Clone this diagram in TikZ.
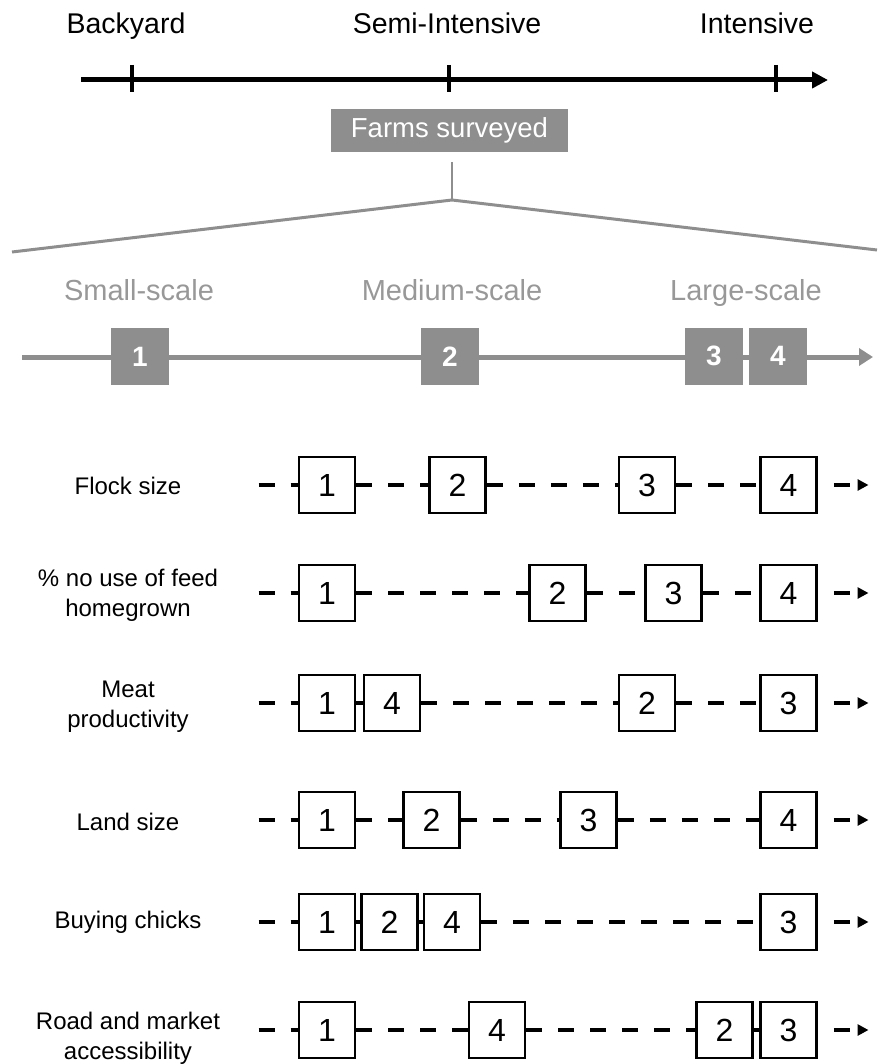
\documentclass[tikz,border=0pt]{standalone}
\usepackage{fontspec}
\setmainfont{Liberation Sans}
\usetikzlibrary{arrows.meta}
\definecolor{fgray}{RGB}{142,142,142}
\definecolor{tgray}{RGB}{152,152,152}
\begin{document}
\begin{tikzpicture}[x=1pt,y=-1pt,
  toplabel/.style={font=\fontsize{28.5}{34}\selectfont, anchor=base, inner sep=0pt},
  graylabel/.style={font=\fontsize{29}{34}\selectfont, text=tgray, anchor=base, inner sep=0pt},
  rowlabel/.style={font=\fontsize{24}{30}\selectfont, align=center, inner sep=0pt},
  gbox/.style={fill=fgray, text=white, font=\fontsize{28}{30}\selectfont\bfseries, minimum width=58pt, minimum height=57pt, inner sep=0pt},
  nbox/.style={draw=black, line width=2.5pt, fill=white, font=\fontsize{32}{36}\selectfont, minimum width=56pt, minimum height=56pt, inner sep=0pt},
  dashline/.style={line width=4.5pt, dash pattern=on 16pt off 16pt},
  endline/.style={dashline, dash phase=16pt, -{Triangle[length=11pt,width=11pt]}},
]
\useasboundingbox (0,0) rectangle (877,1064);

% ---- top axis ----
\node[toplabel] (backyard) at (126,33.5) {Backyard};
\node[toplabel] (semi) at (447,33.5) {Semi-Intensive};
\node[toplabel] (intensive) at (757,33.5) {Intensive};
\coordinate (ax0) at (81,80);
\coordinate (ax1) at (828,80);
\draw[line width=5pt, -{Triangle[length=16pt,width=16pt]}] (ax0) -- (ax1);
\foreach \n/\x in {t1/132,t2/449,t3/776}{
  \coordinate (\n a) at (\x,65);
  \coordinate (\n b) at (\x,92);
  \draw[line width=4.5pt] (\n a) -- (\n b);
}

% ---- farms surveyed ----
\node[fill=fgray, text=white, font=\fontsize{27.5}{30}\selectfont, minimum width=237pt, minimum height=43pt, inner sep=0pt] (farms) at (449.5,130.5) {Farms surveyed};
\coordinate (stemtop) at (452,162);
\coordinate (apex) at (452,200);
\coordinate (roofL) at (12,252);
\coordinate (roofR) at (877,250);
\draw[fgray, line width=2.5pt] (stemtop) -- (apex);
\draw[fgray, line width=3pt] (roofL) -- (apex) -- (roofR);

% ---- scale axis ----
\node[graylabel] (small) at (139,301) {Small-scale};
\node[graylabel] (medium) at (452,301) {Medium-scale};
\node[graylabel] (large) at (746,301) {Large-scale};
\coordinate (g0) at (22,357);
\coordinate (g1) at (873,357);
\draw[fgray, line width=5pt, -{Triangle[length=14pt,width=17pt]}] (g0) -- (g1);
\node[gbox] (G1) at (140,356.5) {1};
\node[gbox] (G2) at (450,356.5) {2};
\node[gbox] (G3) at (714,356) {3};
\node[gbox] (G4) at (778,356) {4};

% ---- rows ----
% row 1: Flock size
\node[rowlabel] (L1) at (128,486) {Flock size};
\node[nbox] (a1) at (327,485) {1};
\node[nbox] (a2) at (457.5,485) {2};
\node[nbox] (a3) at (647,485) {3};
\node[nbox] (a4) at (788.5,485) {4};
\coordinate (as) at (258.5,485);
\coordinate (at) at (868.5,485);
\draw[dashline] (as) -- (a1.west) (a1.east) -- (a2.west) (a2.east) -- (a3.west) (a3.east) -- (a4.west);
\draw[endline] (a4.east) -- (at);

% row 2
\node[rowlabel] (L2) at (128,595) {\% no use of feed\\homegrown};
\node[nbox] (b1) at (327,593) {1};
\node[nbox] (b2) at (557.5,593) {2};
\node[nbox] (b3) at (673.5,593) {3};
\node[nbox] (b4) at (788.5,593) {4};
\coordinate (bs) at (258.5,593);
\coordinate (bt) at (868.5,593);
\draw[dashline] (bs) -- (b1.west) (b1.east) -- (b2.west) (b2.east) -- (b3.west) (b3.east) -- (b4.west);
\draw[endline] (b4.east) -- (bt);

% row 3
\node[rowlabel] (L3) at (128,707) {Meat\\productivity};
\node[nbox] (c1) at (327,703) {1};
\node[nbox] (c4) at (392,703) {4};
\node[nbox] (c2) at (647,703) {2};
\node[nbox] (c3) at (788.5,703) {3};
\coordinate (cs) at (258.5,703);
\coordinate (ct) at (868.5,703);
\draw[dashline] (cs) -- (c1.west) (c1.east) -- (c4.west) (c4.east) -- (c2.west) (c2.east) -- (c3.west);
\draw[endline] (c3.east) -- (ct);

% row 4
\node[rowlabel] (L4) at (128,821.5) {Land size};
\node[nbox] (d1) at (327,820) {1};
\node[nbox] (d2) at (431.5,820) {2};
\node[nbox] (d3) at (588.5,820) {3};
\node[nbox] (d4) at (788.5,820) {4};
\coordinate (ds) at (258.5,820);
\coordinate (dt) at (868.5,820);
\draw[dashline] (ds) -- (d1.west) (d1.east) -- (d2.west) (d2.east) -- (d3.west) (d3.east) -- (d4.west);
\draw[endline] (d4.east) -- (dt);

% row 5
\node[rowlabel] (L5) at (128,922.5) {Buying chicks};
\node[nbox] (e1) at (327,922) {1};
\node[nbox] (e2) at (389.5,922) {2};
\node[nbox] (e4) at (452,922) {4};
\node[nbox] (e3) at (788.5,922) {3};
\coordinate (es) at (258.5,922);
\coordinate (et) at (868.5,922);
\draw[dashline] (es) -- (e1.west) (e1.east) -- (e2.west) (e2.east) -- (e4.west) (e4.east) -- (e3.west);
\draw[endline] (e3.east) -- (et);

% row 6
\node[rowlabel] (L6) at (128,1038) {Road and market\\accessibility};
\node[nbox] (f1) at (327,1030) {1};
\node[nbox] (f4) at (497,1030) {4};
\node[nbox] (f2) at (724.5,1030) {2};
\node[nbox] (f3) at (788.5,1030) {3};
\coordinate (fs) at (258.5,1030);
\coordinate (ft) at (868.5,1030);
\draw[dashline] (fs) -- (f1.west) (f1.east) -- (f4.west) (f4.east) -- (f2.west) (f2.east) -- (f3.west);
\draw[endline] (f3.east) -- (ft);
\end{tikzpicture}
\end{document}
